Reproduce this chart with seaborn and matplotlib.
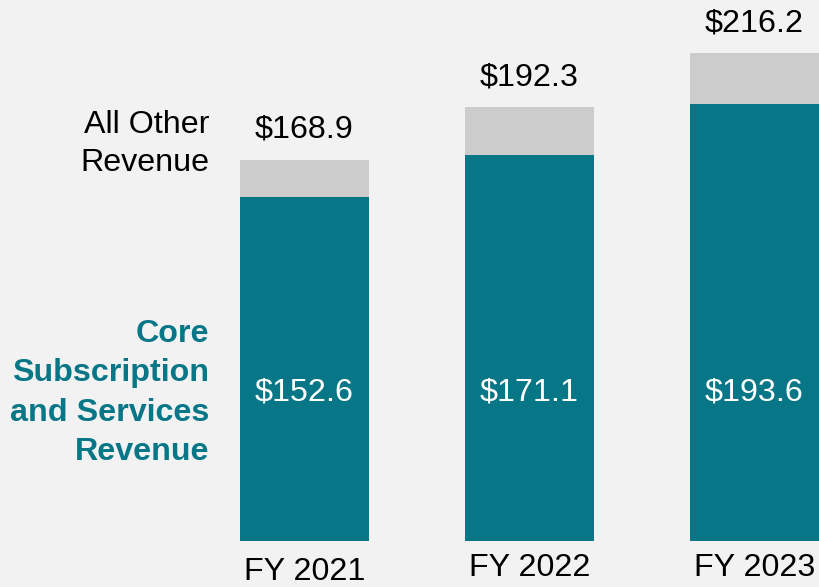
import pandas as pd
import seaborn as sns
import matplotlib.pyplot as plt

# datos
anios = ["FY 2021", "FY 2022", "FY 2023"]
total = [168.9, 192.3, 216.2]
core = [152.6, 171.1, 193.6]

df = pd.DataFrame({"anio": anios, "total": total, "core": core})

sns.set_theme(style="white")
plt.rcParams['font.family'] = ['Liberation Sans', 'DejaVu Sans']

teal = "#077787"
gris = "#CCCCCC"
fondo = "#F2F2F2"

fig = plt.figure(figsize=(8.19, 5.87), dpi=100, facecolor=fondo)
ax = fig.add_axes([0, 0, 1, 1])
ax.set_facecolor(fondo)

# barras: total en gris y core encima en teal
sns.barplot(x="anio", y="total", data=df, color=gris, width=0.573, saturation=1,
            linewidth=0, ax=ax)
sns.barplot(x="anio", y="core", data=df, color=teal, width=0.573, saturation=1,
            linewidth=0, ax=ax)

ax.set_xlim(-1.353, 2.287)
ax.set_ylim(-20.4, 239.8)
ax.axis("off")

fs = 23.2
for i, r in df.iterrows():
    ax.text(i, r["total"] + 13.3, "${:.1f}".format(r["total"]), ha="center", va="center",
            fontsize=fs, color="black")
    ax.text(i, 66, "${:.1f}".format(r["core"]), ha="center", va="center",
            fontsize=fs, color="white")

# etiquetas de año
fy_y = [-13.7, -12.0, -12.0]
for i, a in enumerate(anios):
    ax.text(i, fy_y[i], a, ha="center", va="center", fontsize=fs, color="black")

# leyenda a la izquierda
fig.text(209 / 819, 1 - 144 / 587, "All Other\nRevenue", ha="right", va="center",
         fontsize=fs, color="black", linespacing=1.38)
fig.text(209 / 819, 1 - 393 / 587, "Core\nSubscription\nand Services\nRevenue", ha="right",
         va="center", fontsize=fs, color=teal, fontweight="bold", linespacing=1.4)

fig.savefig("out.png", dpi=100, facecolor=fondo)
